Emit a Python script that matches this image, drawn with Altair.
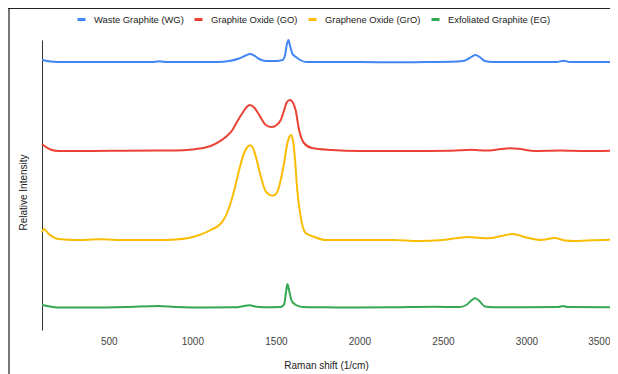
import altair as alt
import pandas as pd

series_names = ["Waste Graphite (WG)", "Graphite Oxide (GO)", "Graphene Oxide (GrO)", "Exfoliated Graphite (EG)"]
series_colors = ["#4285F4", "#EA4335", "#FBBC04", "#34A853"]
x_ticks = [500, 1000, 1500, 2000, 2500, 3000, 3500]

wg_x = [100, 130, 200, 400, 600, 760, 800, 850, 1000, 1150, 1220, 1280, 1320, 1345, 1370, 1400, 1440, 1500, 1540,
        1555, 1565, 1575, 1585, 1600, 1620, 1645, 1680, 1800, 2000, 2200, 2400, 2550, 2620, 2660, 2694, 2720, 2750,
        2800, 3000, 3180, 3222, 3260, 3500]
wg_y = [270, 269, 268, 268, 268, 268, 268.7, 268, 268, 268, 269, 271.5, 274.5, 276, 274.5, 271, 269, 269, 270,
        275, 285, 290, 284, 276, 273, 270, 268, 268, 268, 267.7, 268, 268.2, 269, 272, 275, 273, 269,
        268, 268, 268, 269.3, 268, 268]

go_x = [100, 115, 150, 200, 400, 600, 800, 900, 1000, 1054, 1110, 1161, 1200, 1240, 1270, 1300, 1325, 1345, 1370,
        1400, 1440, 1476, 1505, 1529, 1550, 1563, 1583, 1600, 1618, 1639, 1668, 1716, 1835, 2000, 2200, 2400, 2550,
        2670, 2760, 2850, 2900, 2960, 3050, 3200, 3350, 3500]
go_y = [186, 184, 180.5, 179, 179, 179.3, 179.5, 179.5, 180.5, 181.7, 184, 188.3, 193, 200, 209, 217, 223, 225, 222.5,
        215, 205, 203, 205, 210, 220, 227, 230, 228, 220, 200, 187, 182, 180, 179, 179, 179, 179.2,
        180.2, 179.5, 181, 181.7, 181, 179, 179.5, 179, 179.3]

gro_x = [100, 112, 140, 200, 300, 446, 600, 800, 900, 1042, 1110, 1180, 1215, 1240, 1260, 1280, 1310, 1330, 1345,
         1360, 1380, 1410, 1440, 1479, 1500, 1519, 1549, 1569, 1580, 1591, 1602, 1613, 1628, 1648, 1678, 1728, 1798,
         2000, 2200, 2354, 2500, 2652, 2771, 2850, 2916, 3000, 3087, 3169, 3230, 3288, 3400, 3500]
gro_y = [98, 101, 96, 91, 90, 90.7, 90, 90, 90.5, 95, 100, 108.3, 120, 133.3, 146, 160, 177, 183, 184.7,
         183, 173.3, 153.3, 138.3, 134.3, 136, 143.3, 167, 187, 193, 195, 190, 173.3, 140, 113.3, 97, 93.3, 90,
         90, 90, 89, 90, 93, 91.7, 94, 96, 92.5, 90, 92, 89.5, 89, 89.7, 90.3]

eg_x = [100, 130, 200, 400, 600, 800, 900, 1100, 1250, 1320, 1345, 1375, 1420, 1530, 1550, 1560, 1569, 1580, 1595,
        1620, 1660, 1800, 2000, 2200, 2450, 2600, 2640, 2670, 2692, 2715, 2751, 2800, 3000, 3190, 3219, 3245, 3500]
eg_y = [25, 24, 22.5, 22.5, 23, 24, 23, 22.5, 22.7, 24.2, 24.7, 23.5, 22.7, 23, 26, 37, 46, 39, 29,
        25, 23, 22.7, 22.5, 22.7, 23.2, 23, 25, 29.5, 31.7, 29.5, 23.5, 22.7, 22.7, 23, 24, 23, 22.7]

rows = []
for name, xs, ys in zip(series_names, [wg_x, go_x, gro_x, eg_x], [wg_y, go_y, gro_y, eg_y]):
    for xv, yv in zip(xs, ys):
        rows.append({"series": name, "shift": xv, "intensity": yv})
df = pd.DataFrame(rows)

FONT = "Liberation Sans"

lines = alt.Chart(df).mark_line(strokeWidth=2, interpolate="monotone").encode(
    x=alt.X("shift:Q",
            scale=alt.Scale(domain=[100, 3500], nice=False, zero=False),
            axis=alt.Axis(values=x_ticks, format="d", title="Raman shift (1/cm)", domain=False, ticks=False,
                          grid=False, labelFlush=True,
                          labelFont=FONT, labelFontSize=10, labelColor="#444444", labelPadding=6,
                          titleFont=FONT, titleFontSize=10, titleFontWeight="normal", titleColor="#222222",
                          titlePadding=14)),
    y=alt.Y("intensity:Q",
            scale=alt.Scale(domain=[0, 290], nice=False, zero=False),
            axis=alt.Axis(title="Relative Intensity", labels=False, ticks=False, grid=False,
                          domainColor="#333333", domainWidth=1, titleY=152,
                          titleFont=FONT, titleFontSize=10, titleFontWeight="normal", titleColor="#222222",
                          titlePadding=14)),
    color=alt.Color("series:N",
                    scale=alt.Scale(domain=series_names, range=series_colors),
                    sort=series_names,
                    legend=alt.Legend(title=None, orient="none", direction="horizontal", gridAlign="none",
                                      legendX=34, legendY=-26, symbolType="stroke", symbolStrokeWidth=3,
                                      symbolSize=64, labelFont=FONT, labelFontSize=9.4, labelColor="#222222",
                                      labelOffset=7, columnPadding=4, padding=0)),
)

frame_df = pd.DataFrame({"k": [0]})
left_frame = alt.Chart(frame_df).mark_rule(color="#777777", strokeWidth=2).encode(
    x=alt.value(-33), y=alt.value(-32), y2=alt.value(336))
top_frame = alt.Chart(frame_df).mark_rule(color="#222222", strokeWidth=1).encode(
    y=alt.value(-31.5), x=alt.value(-34), x2=alt.value(568))

chart = alt.layer(lines, left_frame, top_frame).properties(
    width=568, height=290,
    autosize=alt.AutoSizeParams(type="none"),
    padding={"left": 34, "top": 32, "right": 0, "bottom": 46},
).configure_view(stroke=None)

chart.save("out.html", embed_options={"renderer": "svg", "actions": False})
